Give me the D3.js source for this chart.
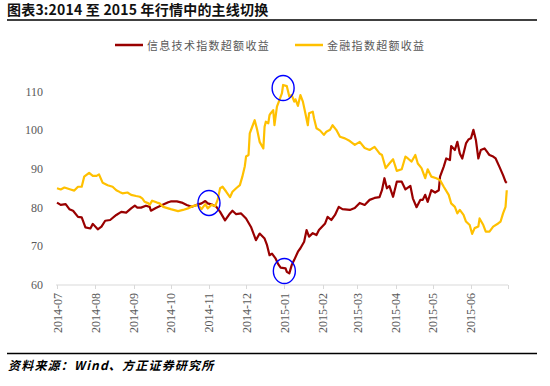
<!DOCTYPE html>
<html>
<head>
<meta charset="utf-8">
<script src="https://cdn.jsdelivr.net/npm/d3@7"></script>
<style>
  body { margin: 0; background: #fff; }
  svg { display: block; }
</style>
</head>
<body>
<div id="chart"></div>
<script>
// 信息技术指数超额收益 (date, value)
const itDates = ["2014-07-01","2014-07-04","2014-07-08","2014-07-11","2014-07-14","2014-07-18","2014-07-21","2014-07-24","2014-07-28","2014-07-30",
  "2014-08-03","2014-08-06","2014-08-09","2014-08-13","2014-08-18","2014-08-22","2014-08-26","2014-08-30",
  "2014-09-02","2014-09-04","2014-09-07","2014-09-11","2014-09-14","2014-09-15","2014-09-19","2014-09-25","2014-09-29",
  "2014-10-01","2014-10-06","2014-10-10","2014-10-14","2014-10-18","2014-10-22","2014-10-26","2014-10-29","2014-10-31",
  "2014-11-04","2014-11-07","2014-11-10","2014-11-14","2014-11-18","2014-11-20","2014-11-23","2014-11-27",
  "2014-12-01","2014-12-05","2014-12-09","2014-12-12","2014-12-16","2014-12-18","2014-12-20","2014-12-22","2014-12-25","2014-12-27","2014-12-29",
  "2015-01-02","2015-01-03","2015-01-05","2015-01-07","2015-01-09","2015-01-12","2015-01-14","2015-01-17","2015-01-19","2015-01-21","2015-01-24","2015-01-27","2015-01-29",
  "2015-02-03","2015-02-05","2015-02-08","2015-02-11","2015-02-14","2015-02-17","2015-02-23","2015-02-27",
  "2015-03-03","2015-03-07","2015-03-11","2015-03-15","2015-03-19","2015-03-21","2015-03-23","2015-03-25","2015-03-27","2015-03-30",
  "2015-04-02","2015-04-06","2015-04-09","2015-04-13","2015-04-15","2015-04-18","2015-04-21","2015-04-23","2015-04-25","2015-04-27","2015-04-30",
  "2015-05-03","2015-05-06","2015-05-07","2015-05-10","2015-05-12","2015-05-15","2015-05-16","2015-05-19","2015-05-21","2015-05-23","2015-05-25","2015-05-28","2015-05-30",
  "2015-06-01","2015-06-03","2015-06-05","2015-06-07","2015-06-09","2015-06-12","2015-06-15","2015-06-16","2015-06-19","2015-06-21","2015-06-24","2015-06-27","2015-06-29","2015-06-30"];
const itValues = [81.3,80.7,80.9,79.6,79.2,77.6,77.5,74.9,74.6,75.8,
  74.4,75.1,76.6,76.8,78.1,78.9,78.7,79.8,
  80.5,80.0,80.0,80.5,80.2,79.2,79.9,80.8,81.4,
  81.6,81.6,81.3,80.7,80.2,80.7,81.1,81.7,81.1,
  80.7,80.2,78.9,76.7,78.5,79.2,78.3,78.5,
  77.2,75.0,71.6,73.3,72.0,70.3,67.7,68.1,66.8,65.4,64.5,
  64.3,63.4,63.0,65.2,66.5,68.6,69.5,71.2,74.2,72.5,73.4,72.9,74.2,
  75.9,77.6,76.8,78.1,80.2,79.6,79.4,79.9,
  81.2,80.7,82.0,82.5,82.7,84.5,87.6,85.0,85.6,82.8,
  86.7,86.7,84.7,85.6,82.4,80.1,82.0,82.0,83.3,81.5,84.5,
  83.9,84.5,88.0,90.6,92.7,92.3,95.9,94.9,97.0,94.0,92.7,96.6,97.6,
  97.9,100.1,97.5,92.7,94.9,95.3,94.0,93.6,93.2,92.7,90.6,88.4,86.7,86.4];

// 金融指数超额收益 (date, value)
const finDates = ["2014-07-01","2014-07-04","2014-07-07","2014-07-12","2014-07-15","2014-07-18","2014-07-21","2014-07-23","2014-07-27","2014-07-30",
  "2014-08-02","2014-08-04","2014-08-07","2014-08-11","2014-08-15","2014-08-18","2014-08-21","2014-08-23","2014-08-27","2014-08-30",
  "2014-09-03","2014-09-06","2014-09-08","2014-09-10","2014-09-13","2014-09-14","2014-09-16","2014-09-20","2014-09-22","2014-09-25","2014-09-29",
  "2014-10-01","2014-10-07","2014-10-11","2014-10-15","2014-10-19","2014-10-23","2014-10-26","2014-10-29","2014-10-31",
  "2014-11-03","2014-11-06","2014-11-08","2014-11-10","2014-11-12","2014-11-15","2014-11-18","2014-11-20","2014-11-23","2014-11-26","2014-11-28","2014-11-30",
  "2014-12-01","2014-12-03","2014-12-04","2014-12-06","2014-12-08","2014-12-10","2014-12-12","2014-12-15","2014-12-16","2014-12-17","2014-12-19","2014-12-20","2014-12-21","2014-12-23","2014-12-24","2014-12-26","2014-12-28","2014-12-30","2014-12-31",
  "2015-01-03","2015-01-05","2015-01-07","2015-01-09","2015-01-10","2015-01-12","2015-01-14","2015-01-16","2015-01-18","2015-01-20","2015-01-21","2015-01-24","2015-01-25","2015-01-27","2015-01-30",
  "2015-02-02","2015-02-04","2015-02-07","2015-02-09","2015-02-12","2015-02-15","2015-02-19","2015-02-23","2015-02-27",
  "2015-03-03","2015-03-07","2015-03-11","2015-03-15","2015-03-19","2015-03-21","2015-03-24","2015-03-27","2015-03-30",
  "2015-04-02","2015-04-06","2015-04-09","2015-04-11","2015-04-14","2015-04-17","2015-04-19","2015-04-22","2015-04-25","2015-04-27","2015-04-30",
  "2015-05-04","2015-05-07","2015-05-10","2015-05-14","2015-05-16","2015-05-19","2015-05-21","2015-05-23","2015-05-26","2015-05-28","2015-05-31",
  "2015-06-02","2015-06-04","2015-06-07","2015-06-08","2015-06-11","2015-06-13","2015-06-16","2015-06-19","2015-06-23","2015-06-25","2015-06-27","2015-06-29","2015-06-30"];
const finValues = [85.0,84.7,85.2,84.7,84.4,85.4,85.4,88.0,89.0,88.2,
  88.2,88.6,86.4,85.8,85.4,84.5,84.0,83.7,83.9,83.3,
  83.0,82.8,82.4,81.5,81.1,80.7,81.8,81.3,81.1,80.2,79.8,
  79.6,79.1,79.4,79.8,80.4,80.7,79.6,80.9,79.8,
  80.7,80.4,82.0,85.0,85.4,84.1,82.7,84.1,85.0,85.8,88.0,90.7,
  93.2,93.6,99.2,100.9,102.6,100.1,97.0,95.3,100.9,102.2,101.8,103.9,104.4,105.2,101.3,106.1,107.8,109.5,111.7,
  111.4,108.7,109.1,107.4,108.0,106.3,109.1,107.4,104.4,101.3,104.4,104.8,103.1,100.5,99.9,
  98.8,99.6,100.1,101.3,100.1,98.3,97.9,97.2,96.2,
  97.0,95.4,94.9,95.7,94.0,93.6,90.2,91.4,92.5,
  89.5,89.9,93.2,92.7,91.9,93.6,91.4,90.2,87.6,89.9,88.0,
  87.6,87.1,85.4,83.3,81.1,80.2,78.5,79.4,78.1,76.4,75.5,
  73.2,74.7,75.1,77.2,75.5,73.8,73.8,75.1,75.9,76.4,78.5,80.2,84.5];

const seriesNames = ["信息技术指数超额收益", "金融指数超额收益"];
const seriesColors = ["#990000", "#FFC000"];
const monthTicks = ["2014-07","2014-08","2014-09","2014-10","2014-11","2014-12","2015-01","2015-02","2015-03","2015-04","2015-05","2015-06"];
const yTicks = [60, 70, 80, 90, 100, 110];
// circled turning points
const markDates = ["2014-11-01", "2014-12-31", "2015-01-01"];
const markValues = [81.2, 110.9, 63.6];

const width = 550, height = 386;
const parse = d3.timeParse("%Y-%m-%d");
const parseMonth = d3.timeParse("%Y-%m");
const serif = "'Liberation Serif', 'Times New Roman', 'DejaVu Serif', serif";

const svg = d3.select("#chart").append("svg")
  .attr("width", width)
  .attr("height", height);

// title
svg.append("text")
  .text("图表3:2014 至 2015 年行情中的主线切换")
  .attr("x", 7)
  .attr("y", 15)
  .attr("fill", "#111")
  .style("font-family", "'Noto Sans CJK SC', sans-serif")
  .style("font-weight", "bold")
  .style("font-size", "14px")
  .style("letter-spacing", "0.2px");
svg.append("line")
  .attr("x1", 7).attr("x2", 537)
  .attr("y1", 20).attr("y2", 20)
  .attr("stroke", "#000")
  .attr("stroke-width", 1.5);

const x = d3.scaleTime()
  .domain([parse("2014-07-01"), parse("2015-07-01")])
  .range([57, 508]);
const y = d3.scaleLinear()
  .domain([60, 115])
  .range([285, 72.2]);

// legend
const legend = svg.append("g");
const legendX = [115, 295];
seriesNames.forEach((name, i) => {
  legend.append("line")
    .attr("x1", legendX[i]).attr("x2", legendX[i] + 28)
    .attr("y1", 45).attr("y2", 45)
    .attr("stroke", seriesColors[i])
    .attr("stroke-width", 2.5);
  legend.append("text")
    .text(name)
    .attr("x", legendX[i] + 32)
    .attr("y", 45)
    .attr("dominant-baseline", "central")
    .attr("fill", "#595959")
    .style("font-family", "'Noto Sans CJK SC', sans-serif")
    .style("font-size", "11px")
    .style("letter-spacing", "1.3px");
});

// y labels
svg.append("g")
  .selectAll("text")
  .data(yTicks).enter()
  .append("text")
  .text(d => d)
  .attr("x", 43)
  .attr("y", d => y(d))
  .attr("dominant-baseline", "central")
  .style("text-anchor", "end")
  .attr("fill", "#595959")
  .style("font-family", serif)
  .style("font-size", "12px");

// x axis
const xAxis = svg.append("g");
xAxis.append("line")
  .attr("x1", 56).attr("x2", x.range()[1])
  .attr("y1", 285).attr("y2", 285)
  .attr("stroke", "#d9d9d9")
  .attr("stroke-width", 1);
const tickDates = monthTicks.map(parseMonth).concat([x.domain()[1]]);
xAxis.selectAll(".tick")
  .data(tickDates).enter()
  .append("line")
  .attr("x1", d => Math.round(x(d)) + 0.5)
  .attr("x2", d => Math.round(x(d)) + 0.5)
  .attr("y1", 285).attr("y2", 289)
  .attr("stroke", "#d9d9d9");
xAxis.selectAll(".lbl")
  .data(monthTicks).enter()
  .append("text")
  .text(d => d)
  .attr("transform", d => `translate(${x(parseMonth(d)) + 0.5},293) rotate(-90)`)
  .attr("dominant-baseline", "central")
  .style("text-anchor", "end")
  .attr("fill", "#595959")
  .style("font-family", serif)
  .style("font-size", "12px");

// lines
const line = d3.line()
  .x(d => x(d[0]))
  .y(d => y(d[1]));
const allSeries = [
  d3.zip(itDates.map(parse), itValues),
  d3.zip(finDates.map(parse), finValues)
];
svg.append("g")
  .attr("fill", "none")
  .attr("stroke-width", 2.2)
  .attr("stroke-linejoin", "round")
  .selectAll("path")
  .data(allSeries).enter()
  .append("path")
  .attr("stroke", (d, i) => seriesColors[i])
  .attr("d", line);

// blue circles
svg.append("g")
  .selectAll("ellipse")
  .data(d3.zip(markDates.map(parse), markValues)).enter()
  .append("ellipse")
  .attr("cx", d => x(d[0]))
  .attr("cy", d => y(d[1]))
  .attr("rx", 11)
  .attr("ry", 12.5)
  .attr("fill", "none")
  .attr("stroke", "#0000ff")
  .attr("stroke-width", 1.4);

// source
svg.append("line")
  .attr("x1", 7).attr("x2", 537)
  .attr("y1", 353.5).attr("y2", 353.5)
  .attr("stroke", "#000")
  .attr("stroke-width", 1.5);
svg.append("text")
  .text("资料来源：Wind、方正证券研究所")
  .attr("x", 8)
  .attr("y", 370)
  .attr("fill", "#000")
  .style("font-family", "'Noto Sans CJK SC', sans-serif")
  .style("font-style", "italic")
  .style("font-weight", "bold")
  .style("font-size", "12px")
  .style("letter-spacing", "1.2px");
</script>
</body>
</html>
